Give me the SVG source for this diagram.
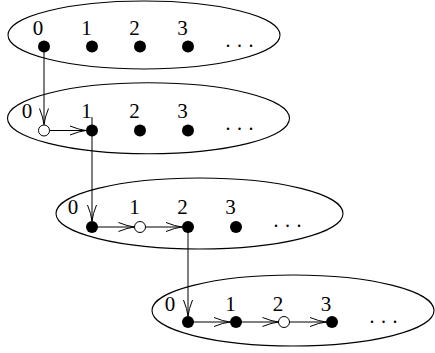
<svg xmlns="http://www.w3.org/2000/svg" width="435" height="353" viewBox="0 0 435 353">
<style>
.ell{fill:none;stroke:#000;stroke-width:1.1}
.dot{fill:#000}
.open{fill:#fff;stroke:#000;stroke-width:1}
.lbl{font-family:"Liberation Serif",serif;font-size:21px;text-anchor:middle;fill:#000}
.dots{font-family:"Liberation Serif",serif;font-size:20px;letter-spacing:6.5px;fill:#000}
.con{fill:none;stroke:#000;stroke-width:1;marker-end:url(#ah)}
</style>
<defs>
<marker id="ah" markerUnits="userSpaceOnUse" viewBox="-18 -6 20 12" refX="0" refY="0" markerWidth="20" markerHeight="12" orient="auto" overflow="visible">
<path d="M -16 -4.5 Q -7 -0.8 0 0 M -16 4.5 Q -7 0.8 0 0" fill="none" stroke="#000" stroke-width="1"/>
</marker>
</defs>
<g id="connectors">
<line class="con" x1="44" y1="46.5" x2="44" y2="124.5"/>
<line class="con" x1="49.5" y1="130.5" x2="86" y2="130.5"/>
<line class="con" x1="92" y1="117" x2="92" y2="221"/>
<line class="con" x1="92" y1="227" x2="134.5" y2="227"/>
<line class="con" x1="145.5" y1="227" x2="182" y2="227"/>
<line class="con" x1="188" y1="227" x2="188" y2="316"/>
<line class="con" x1="188" y1="322" x2="230" y2="322"/>
<line class="con" x1="236" y1="322" x2="278.5" y2="322"/>
<line class="con" x1="289.5" y1="322" x2="326" y2="322"/>
</g>
<g id="row1">
<ellipse class="ell" cx="144" cy="35" rx="136" ry="34"/>
<g id="r1n0"><circle class="dot" cx="44" cy="46.5" r="6"/><text class="lbl" x="38" y="35">0</text></g>
<g id="r1n1"><circle class="dot" cx="92" cy="46.5" r="6"/><text class="lbl" x="86.5" y="35">1</text></g>
<g id="r1n2"><circle class="dot" cx="140" cy="46.5" r="6"/><text class="lbl" x="134.5" y="35">2</text></g>
<g id="r1n3"><circle class="dot" cx="188" cy="46.5" r="6"/><text class="lbl" x="182.5" y="35">3</text></g>
<text class="dots" x="225.5" y="46.5">...</text>
</g>
<g id="row2">
<ellipse class="ell" cx="148.5" cy="118.3" rx="141" ry="35.5"/>
<g id="r2n0"><circle class="open" cx="44" cy="130.5" r="5.5"/><text class="lbl" x="27" y="118.3">0</text></g>
<g id="r2n1"><circle class="dot" cx="92" cy="130.5" r="6"/><text class="lbl" x="86.5" y="118.3">1</text></g>
<g id="r2n2"><circle class="dot" cx="140" cy="130.5" r="6"/><text class="lbl" x="134.5" y="118.3">2</text></g>
<g id="r2n3"><circle class="dot" cx="188" cy="130.5" r="6"/><text class="lbl" x="182.5" y="118.3">3</text></g>
<text class="dots" x="225.5" y="130">...</text>
</g>
<g id="row3">
<ellipse class="ell" cx="199.5" cy="213.5" rx="143.5" ry="35.5"/>
<g id="r3n0"><circle class="dot" cx="92" cy="227" r="6"/><text class="lbl" x="73" y="213.5">0</text></g>
<g id="r3n1"><circle class="open" cx="140" cy="227" r="5.5"/><text class="lbl" x="134.5" y="213.5">1</text></g>
<g id="r3n2"><circle class="dot" cx="188" cy="227" r="6"/><text class="lbl" x="182.5" y="213.5">2</text></g>
<g id="r3n3"><circle class="dot" cx="236" cy="227" r="6"/><text class="lbl" x="230.5" y="213.5">3</text></g>
<text class="dots" x="273.5" y="227.3">...</text>
</g>
<g id="row4">
<ellipse class="ell" cx="293" cy="310.5" rx="141" ry="35.5"/>
<g id="r4n0"><circle class="dot" cx="188" cy="322" r="6"/><text class="lbl" x="170" y="310.5">0</text></g>
<g id="r4n1"><circle class="dot" cx="236" cy="322" r="6"/><text class="lbl" x="230.5" y="310.5">1</text></g>
<g id="r4n2"><circle class="open" cx="284" cy="322" r="5.5"/><text class="lbl" x="278" y="310.5">2</text></g>
<g id="r4n3"><circle class="dot" cx="332" cy="322" r="6"/><text class="lbl" x="326" y="310.5">3</text></g>
<text class="dots" x="369.5" y="322.5">...</text>
</g>
</svg>
